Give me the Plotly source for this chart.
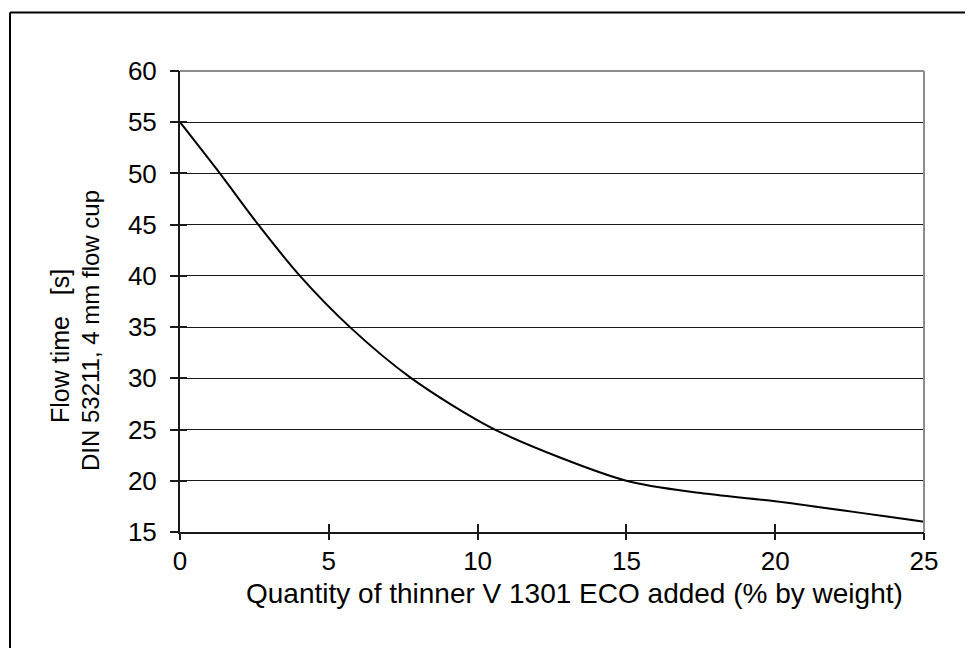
import plotly.graph_objects as go

# Data
thinner_pct = [0, 1.34, 2.63, 4.03, 5.71, 7.78, 10.58, 15.0, 17.5, 20, 25]
flow_time_s = [55, 50, 45, 40, 35, 30, 25, 20, 18.8, 18, 16]

x_ticks = [0, 5, 10, 15, 20, 25]
y_ticks = [15, 20, 25, 30, 35, 40, 45, 50, 55, 60]

x_title = "Quantity of thinner V 1301 ECO added (% by weight)"
y_title_1 = "Flow time   [s]"
y_title_2 = "DIN 53211, 4 mm flow cup"

FONT = "Liberation Sans, Arial, sans-serif"
DARK = "#1a1a1a"

# page body has an 8px margin, so the figure is 8px smaller than the window
W, H = 965, 640
L, T = 172, 63
PW, PH = 744, 461


def px(sx):  # screen x -> paper x
    return (sx - 180) / PW


def py(sy):  # screen y -> paper y
    return (532 - sy) / PH


fig = go.Figure()
fig.add_trace(go.Scatter(
    x=thinner_pct, y=flow_time_s, mode="lines",
    line=dict(color="black", width=2, shape="spline", smoothing=0.8),
    showlegend=False, hoverinfo="skip",
))

fig.update_layout(
    width=W, height=H,
    margin=dict(l=L, r=W - L - PW, t=T, b=H - T - PH, pad=0),
    paper_bgcolor="white", plot_bgcolor="white",
    font=dict(family=FONT, size=26, color="black"),
    xaxis=dict(
        range=[0, 25], tickvals=x_ticks, ticktext=[str(v) for v in x_ticks],
        ticks="inside", ticklen=8, tickwidth=1.5, tickcolor=DARK,
        showline=True, linecolor=DARK, linewidth=2,
        showgrid=False, zeroline=False, ticklabelstandoff=5,
        tickfont=dict(family=FONT, size=26),
    ),
    yaxis=dict(
        range=[15, 60], tickvals=y_ticks, ticktext=[str(v) for v in y_ticks],
        ticks="inside", ticklen=7, tickwidth=1.5, tickcolor=DARK,
        showline=True, linecolor=DARK, linewidth=2,
        showgrid=True, gridcolor=DARK, gridwidth=1.2, zeroline=False,
        ticklabelstandoff=16,
        tickfont=dict(family=FONT, size=26),
    ),
    xaxis2=dict(
        overlaying="x", matches="x", range=[0, 25], tickvals=x_ticks,
        ticks="outside", ticklen=7, tickwidth=1.5, tickcolor=DARK,
        showticklabels=False, showgrid=False, showline=False, zeroline=False,
        anchor="y",
    ),
    yaxis2=dict(
        overlaying="y", matches="y", range=[15, 60], tickvals=y_ticks,
        ticks="outside", ticklen=9, tickwidth=1.5, tickcolor=DARK,
        showticklabels=False, showgrid=False, showline=False, zeroline=False,
        anchor="x",
    ),
)

# invisible trace to activate overlay axes
fig.add_trace(go.Scatter(x=[None], y=[None], xaxis="x2", yaxis="y2",
                         showlegend=False, hoverinfo="skip"))

# gray top / right border of plot area
fig.add_shape(type="line", xref="paper", yref="paper", x0=0, x1=1, y0=1, y1=1,
              line=dict(color="#8c8c8c", width=2), layer="above")
fig.add_shape(type="line", xref="paper", yref="paper", x0=1, x1=1, y0=0, y1=1,
              line=dict(color="#8c8c8c", width=2), layer="above")

# outer frame (left and top edges visible)
fig.add_shape(type="line", xref="paper", yref="paper",
              x0=px(10), x1=px(1000), y0=py(12.5), y1=py(12.5),
              line=dict(color="black", width=2))
fig.add_shape(type="line", xref="paper", yref="paper",
              x0=px(10), x1=px(10), y0=py(12.5), y1=py(680),
              line=dict(color="black", width=2))

fig.add_annotation(text=x_title, xref="paper", yref="paper",
                   x=px(574), y=py(593),
                   xanchor="center", yanchor="middle", showarrow=False,
                   font=dict(family=FONT, size=28))
fig.add_annotation(text=y_title_1, xref="paper", yref="paper",
                   x=px(60), y=py(346), textangle=-90,
                   xanchor="center", yanchor="middle", showarrow=False,
                   font=dict(family=FONT, size=25))
fig.add_annotation(text=y_title_2, xref="paper", yref="paper",
                   x=px(90), y=py(331), textangle=-90,
                   xanchor="center", yanchor="middle", showarrow=False,
                   font=dict(family=FONT, size=24))

fig.write_html("out.html")
